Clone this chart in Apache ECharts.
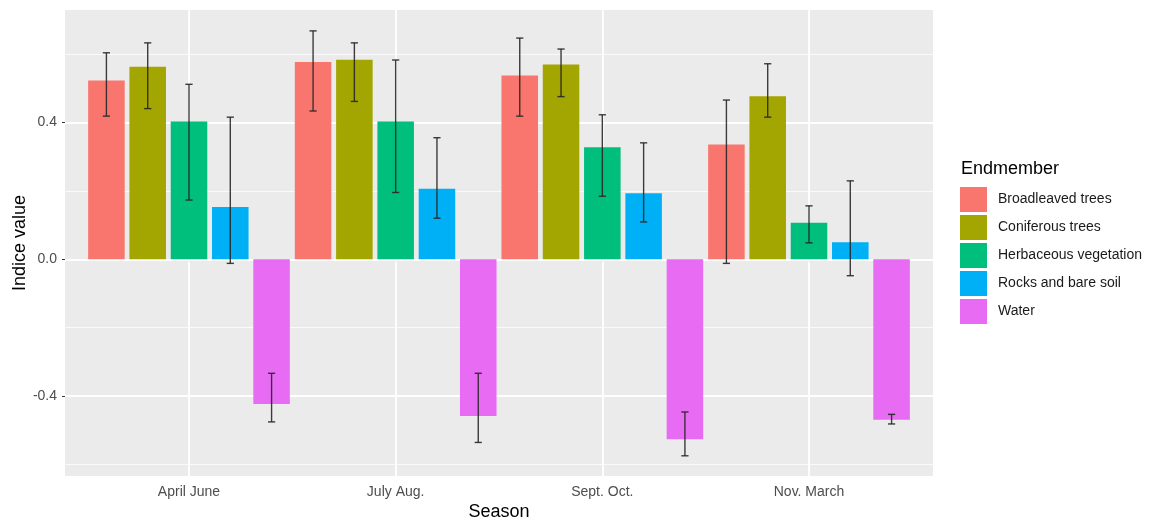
<!DOCTYPE html>
<html>
<head>
<meta charset="utf-8">
<style>
  html, body { margin: 0; padding: 0; background: #fff; }
  #chart { width: 1167px; height: 525px; }
</style>
<script src="https://cdn.jsdelivr.net/npm/echarts@6/dist/echarts.min.js"></script>
</head>
<body>
<div id="chart"></div>
<script>
// Seasons on the x axis
const seasons = ['April June', 'July Aug.', 'Sept. Oct.', 'Nov. March'];
// Endmember classes (legend order)
const endmembers = ['Broadleaved trees', 'Coniferous trees', 'Herbaceous vegetation', 'Rocks and bare soil', 'Water'];
const endmemberColors = ['#F8766D', '#A3A500', '#00BF7D', '#00B0F6', '#E76BF3'];

// Mean index value per season
const broadleavedMean = [0.522, 0.576, 0.537, 0.335];
const coniferousMean  = [0.562, 0.583, 0.569, 0.476];
const herbaceousMean  = [0.402, 0.402, 0.327, 0.107];
const rocksMean       = [0.153, 0.206, 0.193, 0.050];
const waterMean       = [-0.4225, -0.4575, -0.5255, -0.469];

// Error bar lower bounds
const broadleavedLow = [0.418, 0.433, 0.418, -0.012];
const coniferousLow  = [0.440, 0.461, 0.475, 0.415];
const herbaceousLow  = [0.173, 0.195, 0.184, 0.048];
const rocksLow       = [-0.012, 0.120, 0.109, -0.048];
const waterLow       = [-0.475, -0.535, -0.574, -0.481];

// Error bar upper bounds
const broadleavedHigh = [0.603, 0.667, 0.646, 0.465];
const coniferousHigh  = [0.632, 0.632, 0.614, 0.571];
const herbaceousHigh  = [0.511, 0.582, 0.422, 0.156];
const rocksHigh       = [0.415, 0.355, 0.340, 0.229];
const waterHigh       = [-0.333, -0.333, -0.446, -0.453];

// Axis ticks
const yMajorTicks = [-0.4, 0, 0.4];
const yMinorTicks = [-0.6, -0.2, 0.2, 0.6];

const means = [broadleavedMean, coniferousMean, herbaceousMean, rocksMean, waterMean];
const lows  = [broadleavedLow, coniferousLow, herbaceousLow, rocksLow, waterLow];
const highs = [broadleavedHigh, coniferousHigh, herbaceousHigh, rocksHigh, waterHigh];

const FONT = '"Liberation Sans", Arial, sans-serif';
const Y_MIN = -0.633, Y_MAX = 0.728;
const CAT_GAP = 0.024;   // barCategoryGap as fraction
const BAR_GAP = 0.13;    // barGap as fraction of bar width
const PANEL = { left: 65, top: 10, width: 868, height: 466 };
// discrete scale expanded by 0.6 units on each side: the bar grid is inset so
// category bands are one unit wide and centred on 1..n of that scale
const unit = PANEL.width / (seasons.length - 1 + 1.2);
const BARS = { left: PANEL.left + 0.1 * unit, top: PANEL.top, width: unit * seasons.length, height: PANEL.height };

const chart = echarts.init(document.getElementById('chart'), null, { renderer: 'canvas' });

const gridLineSeries = [
  {
    type: 'line', name: '_hgrid', xAxisIndex: 0, yAxisIndex: 0, data: [], z: 1, silent: true,
    markLine: {
      silent: true, symbol: ['none', 'none'], z: 1, animation: false,
      label: { show: false },
      data: yMajorTicks.map(v => ({ yAxis: v, lineStyle: { color: '#FFFFFF', width: 1.8, type: 'solid' } }))
        .concat(yMinorTicks.map(v => ({ yAxis: v, lineStyle: { color: '#FAFAFA', width: 1.0, type: 'solid' } })))
    }
  },
  {
    type: 'line', name: '_vgrid', xAxisIndex: 1, yAxisIndex: 1, data: [], z: 1, silent: true,
    markLine: {
      silent: true, symbol: ['none', 'none'], z: 1, animation: false,
      label: { show: false },
      data: seasons.map(s => ({ xAxis: s, lineStyle: { color: '#FFFFFF', width: 1.8, type: 'solid' } }))
    }
  }
];

const barSeries = endmembers.map((name, i) => ({
  type: 'bar', name, xAxisIndex: 1, yAxisIndex: 1,
  data: means[i],
  barCategoryGap: (CAT_GAP * 100) + '%',
  barGap: (BAR_GAP * 100) + '%',
  itemStyle: { color: endmemberColors[i] },
  z: 2, silent: true
}));

const errorSeries = endmembers.map((name, i) => ({
  type: 'custom', name: name + ' error', xAxisIndex: 1, yAxisIndex: 1, z: 3, silent: true,
  data: seasons.map((s, k) => [k, lows[i][k], highs[i][k]]),
  encode: { x: 0, y: [1, 2] },
  renderItem: (params, api) => {
    const k = api.value(0);
    const band = api.size([1, 0])[0];
    const center = api.coord([k, 0])[0];
    const group = band * (1 - CAT_GAP);
    const n = endmembers.length;
    const barW = group / (n + (n - 1) * BAR_GAP);
    const x = center - group / 2 + i * barW * (1 + BAR_GAP) + barW / 2;
    const yLo = api.coord([k, api.value(1)])[1];
    const yHi = api.coord([k, api.value(2)])[1];
    const cap = 3.6;
    const style = { stroke: 'rgba(40,40,40,0.9)', lineWidth: 1.4 };
    return {
      type: 'group',
      children: [
        { type: 'line', shape: { x1: x, y1: yHi, x2: x, y2: yLo }, style },
        { type: 'line', shape: { x1: x - cap, y1: yHi, x2: x + cap, y2: yHi }, style },
        { type: 'line', shape: { x1: x - cap, y1: yLo, x2: x + cap, y2: yLo }, style }
      ]
    };
  }
}));

const option = {
  animation: false,
  textStyle: { fontFamily: FONT },
  title: {
    text: 'Endmember', left: 961, top: 160, padding: 0,
    textStyle: { fontFamily: FONT, fontSize: 18, fontWeight: 'normal', color: '#000000' }
  },
  legend: {
    data: endmembers, orient: 'vertical', left: 960, top: 187, padding: 0,
    icon: 'rect', itemWidth: 27, itemHeight: 25, itemGap: 3,
    selectedMode: false,
    textStyle: { fontFamily: FONT, fontSize: 14, color: '#1A1A1A', padding: [0, 0, 0, 6] }
  },
  grid: [
    { left: PANEL.left, top: PANEL.top, width: PANEL.width, height: PANEL.height,
      show: true, backgroundColor: '#EBEBEB', borderWidth: 0,
      containLabel: false, outerBoundsMode: 'none' },
    { left: BARS.left, top: BARS.top, width: BARS.width, height: BARS.height,
      show: false, containLabel: false, outerBoundsMode: 'none' }
  ],
  xAxis: [
    { type: 'value', gridIndex: 0, min: 0, max: 1, show: false },
    {
      type: 'category', gridIndex: 1, data: seasons,
      name: 'Season', nameLocation: 'middle', nameGap: 27, nameMoveOverlap: false,
      nameTextStyle: { fontFamily: FONT, fontSize: 18, color: '#000000' },
      axisLine: { show: false },
      axisTick: { show: true, alignWithLabel: true, length: 3, lineStyle: { color: '#333333', width: 1 } },
      axisLabel: { fontFamily: FONT, fontSize: 14, color: '#4D4D4D', margin: 9 },
      splitLine: { show: false }
    }
  ],
  yAxis: [
    {
      type: 'value', gridIndex: 0, min: Y_MIN, max: Y_MAX,
      name: 'Indice value', nameLocation: 'middle', nameGap: 45, nameRotate: 90, nameMoveOverlap: false,
      nameTextStyle: { fontFamily: FONT, fontSize: 18, color: '#000000', verticalAlign: 'middle' },
      axisLine: { show: false },
      axisTick: { show: true, length: 3, customValues: yMajorTicks, lineStyle: { color: '#333333', width: 1 } },
      axisLabel: { fontFamily: FONT, fontSize: 14, color: '#4D4D4D', margin: 8,
        customValues: yMajorTicks, formatter: v => v.toFixed(1) },
      splitLine: { show: false }
    },
    { type: 'value', gridIndex: 1, min: Y_MIN, max: Y_MAX, show: false, splitLine: { show: false } }
  ],
  series: gridLineSeries.concat(barSeries, errorSeries)
};

chart.setOption(option);
</script>
</body>
</html>
